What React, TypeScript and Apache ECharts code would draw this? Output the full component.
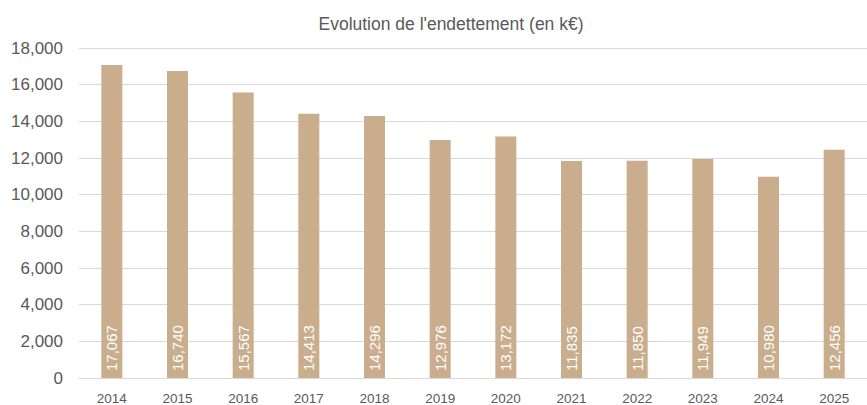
import React, { useEffect, useRef } from "react";
import * as echarts from "echarts";

const titleText = "Evolution de l'endettement (en k€)";
const years = ["2014", "2015", "2016", "2017", "2018", "2019", "2020", "2021", "2022", "2023", "2024", "2025"];
const debt = [17067, 16740, 15567, 14413, 14296, 12976, 13172, 11835, 11850, 11949, 10980, 12456];
const yMin = 0;
const yMax = 18000;
const yInterval = 2000;

const fmt = (v: number) => v.toLocaleString("en-US");

export default function App() {
  const ref = useRef<HTMLDivElement>(null);
  useEffect(() => {
    if (!ref.current) return;
    const chart = echarts.init(ref.current, undefined, { renderer: "svg" });
    chart.setOption({
      animation: false,
      backgroundColor: "#ffffff",
      textStyle: { fontFamily: "Liberation Sans, Arial, sans-serif" },
      title: {
        text: titleText,
        left: 446,
        textAlign: "center",
        top: 10,
        textStyle: { color: "#595959", fontSize: 17.5, fontWeight: "normal", fontFamily: "Liberation Sans, Arial, sans-serif" },
      },
      grid: { left: 79, top: 48, width: 800, height: 337, containLabel: false },
      xAxis: {
        type: "category",
        data: years,
        axisLine: { show: true, lineStyle: { color: "#d9d9d9" } },
        axisTick: { show: false },
        axisLabel: { color: "#595959", fontSize: 13.5, margin: 13 },
      },
      yAxis: {
        type: "value",
        min: yMin,
        max: yMax,
        interval: yInterval,
        axisLine: { show: false },
        axisTick: { show: false },
        splitLine: { lineStyle: { color: "#d9d9d9", width: 1 } },
        axisLabel: { color: "#595959", fontSize: 17, margin: 16, formatter: (v: number) => fmt(v) },
      },
      series: [
        {
          type: "bar",
          data: debt,
          barWidth: 21,
          itemStyle: { color: "#c9ad8c" },
          label: {
            show: true,
            position: "insideBottom",
            rotate: 90,
            align: "left",
            verticalAlign: "middle",
            distance: 7,
            color: "#ffffff",
            fontSize: 15,
            formatter: (p: any) => fmt(p.value),
          },
        },
      ],
    });
    return () => chart.dispose();
  }, []);
  return <div ref={ref} style={{ position: "absolute", left: 0, top: 0, width: 867, height: 405 }} />;
}
